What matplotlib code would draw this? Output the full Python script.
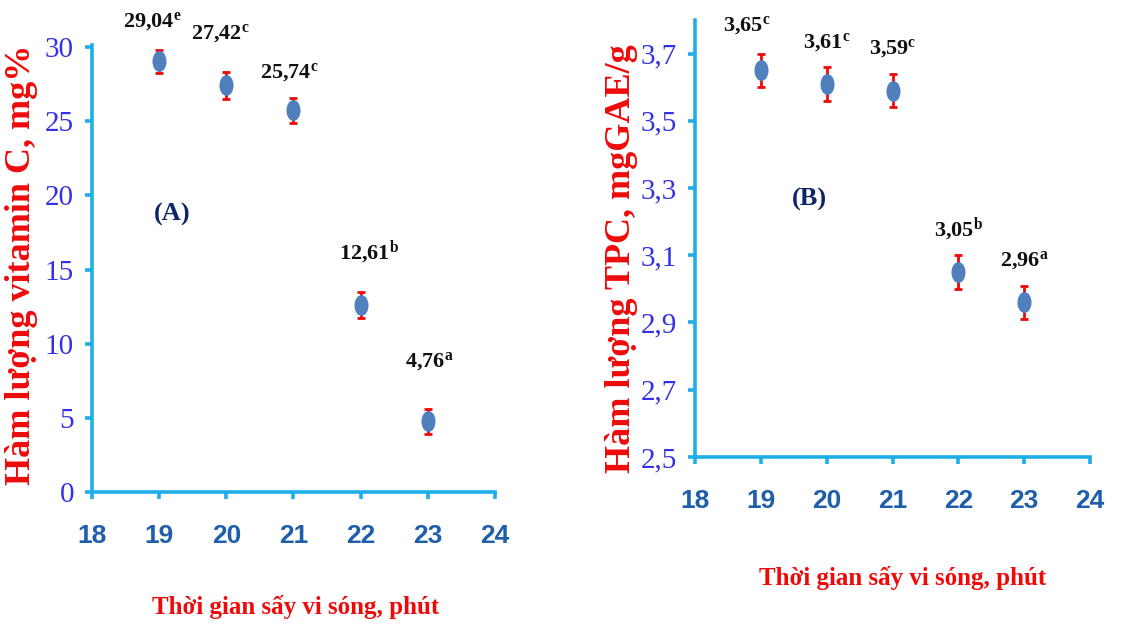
import matplotlib
matplotlib.use("Agg")
import matplotlib.pyplot as plt
import matplotlib.path as mpath
from matplotlib.transforms import Affine2D

# drying time, minutes
time_min = [19, 20, 21, 22, 23]

# (A) vitamin C, mg%
vitc = [29.04, 27.42, 25.74, 12.61, 4.76]
vitc_err = [0.8, 0.9, 0.85, 0.85, 0.85]
vitc_sig = ["e", "c", "c", "b", "a"]

# (B) TPC, mgGAE/g
tpc = [3.65, 3.61, 3.59, 3.05, 2.96]
tpc_err = [0.05, 0.05, 0.05, 0.05, 0.05]
tpc_sig = ["c", "c", "c", "b", "a"]

xticks = [18, 19, 20, 21, 22, 23, 24]
yticks_a = [0, 5, 10, 15, 20, 25, 30]
yticks_b = [2.5, 2.7, 2.9, 3.1, 3.3, 3.5, 3.7]

# label offsets in points (dx, dy) from each point
lab_off_a = [(-5, 29), (-4, 37), (-3, 27), (6, 38), (1, 43)]
lab_off_b = [(-10, 32), (0, 30), (0, 30), (0, 31), (0, 30)]

AX_COL = "#1eaee8"
YT_COL = "#3430e6"
XT_COL = "#1f5ea8"
RED = "#ee0a0a"
MK_COL = "#4f7fbd"
SERIF = "Liberation Serif"

plt.rcParams["mathtext.fontset"] = "custom"
plt.rcParams["mathtext.rm"] = "Liberation Serif:bold"
plt.rcParams["mathtext.it"] = "Liberation Serif:bold"

ellipse = mpath.Path.unit_circle().transformed(Affine2D().scale(0.65, 1.0))


def fmt(v, nd):
    return f"{v:.{nd}f}".replace(".", ",")


def style_axes(ax, yticks, nd):
    for s in ["top", "right"]:
        ax.spines[s].set_visible(False)
    for s in ["left", "bottom"]:
        ax.spines[s].set_color(AX_COL)
        ax.spines[s].set_linewidth(2.6)
    ax.set_xlim(18, 24)
    ax.set_xticks(xticks)
    ax.set_xticklabels([str(t) for t in xticks],
                       family=["Liberation Sans Narrow", "Liberation Sans"],
                       fontweight="bold", fontsize=19, color=XT_COL)
    ax.set_yticks(yticks)
    ax.set_yticklabels([fmt(t, nd) for t in yticks], family=SERIF,
                       fontsize=21, color=YT_COL)
    ax.tick_params(axis="x", length=5, width=2.6, color=AX_COL, pad=18)
    ax.tick_params(axis="y", length=5, width=2.6, color=AX_COL, pad=8)


def draw_points(ax, y, err, sig, nd, offs):
    ax.errorbar(time_min, y, yerr=err, fmt="none", ecolor=RED,
                elinewidth=2, capsize=3, capthick=2, clip_on=False, zorder=3)
    ax.plot(time_min, y, linestyle="none", marker=ellipse, markersize=14,
            color=MK_COL, clip_on=False, zorder=4)
    for x, v, s, (dx, dy) in zip(time_min, y, sig, offs):
        ax.annotate(fmt(v, 2) + r"$^{\mathrm{" + s + "}}$", (x, v),
                    xytext=(dx, dy), textcoords="offset points",
                    ha="center", va="center", family=SERIF,
                    fontweight="bold", fontsize=16, color="#111111",
                    annotation_clip=False)


fig = plt.figure(figsize=(11.45, 6.31), dpi=100)
fig.patch.set_facecolor("white")

# panel A
ax1 = fig.add_axes([0.0803, 0.2203, 0.352, 0.7084])
ax1.set_ylim(0, 30.15)
style_axes(ax1, yticks_a, 0)
draw_points(ax1, vitc, vitc_err, vitc_sig, 2, lab_off_a)
ax1.text(0.2, 0.62, "(A)", transform=ax1.transAxes, ha="center", va="center",
         family=SERIF, fontweight="bold", fontsize=19, color="#0d2766")

# panel B
ax2 = fig.add_axes([0.607, 0.2758, 0.345, 0.6926])
ax2.set_ylim(2.5, 3.8)
style_axes(ax2, yticks_b, 1)
draw_points(ax2, tpc, tpc_err, tpc_sig, 2, lab_off_b)
ax2.text(0.29, 0.59, "(B)", transform=ax2.transAxes, ha="center", va="center",
         family=SERIF, fontweight="bold", fontsize=19, color="#0d2766")

# axis titles
fig.text(0.019, 0.58, "Hàm lượng vitamin C, mg%", rotation=90, ha="center",
         va="center", family=SERIF, fontweight="bold", fontsize=26, color=RED)
fig.text(0.543, 0.59, "Hàm lượng TPC, mgGAE/g", rotation=90, ha="center",
         va="center", family=SERIF, fontweight="bold", fontsize=26, color=RED)
fig.text(0.258, 0.038, "Thời gian sấy vi sóng, phút", ha="center", va="center",
         family=SERIF, fontweight="bold", fontsize=18, color=RED)
fig.text(0.788, 0.084, "Thời gian sấy vi sóng, phút", ha="center", va="center",
         family=SERIF, fontweight="bold", fontsize=18, color=RED)

fig.savefig("out.png", dpi=100, facecolor="white")
